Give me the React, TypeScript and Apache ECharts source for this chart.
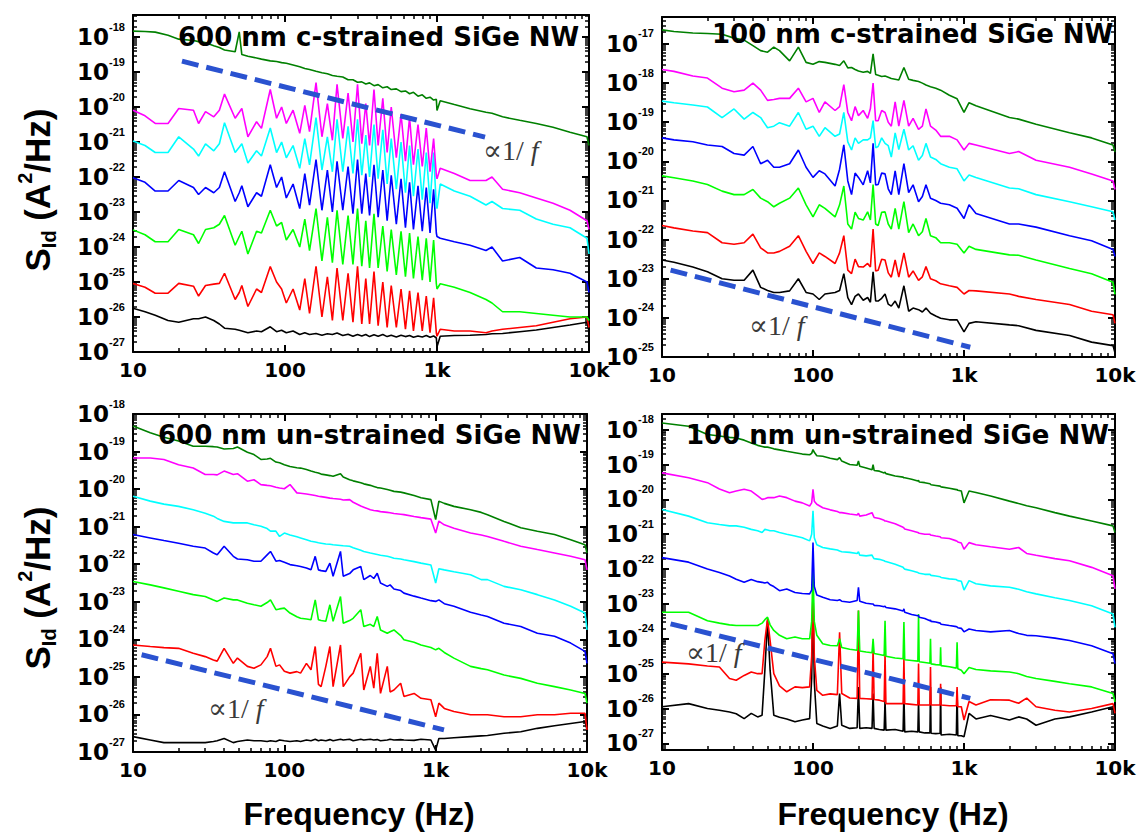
import React, { useEffect, useRef } from 'react';
import * as echarts from 'echarts';

// All S_Id values are log10(S_Id / (A^2/Hz)); frequencies in Hz.
const xTickLabels = ['10', '100', '1k', '10k'];

// ---------- 600 nm c-strained ----------
const tlFreq = [10, 12, 14, 17, 20, 25, 27, 30, 34, 37,
  40, 47, 50, 52, 57, 65, 70, 80, 88, 95,
  102, 113, 125, 135, 145, 160, 175, 190, 205, 220,
  240, 260, 280, 300, 320, 340, 360, 385, 410, 440,
  470, 500, 540, 580, 620, 660, 700, 750, 800, 850,
  900, 950, 990, 1000, 1050, 1300, 1650, 2100, 2300, 2700,
  3500, 4500, 5800, 7500, 9700, 10000];
const tlDarkGreen = [-17.83, -17.84, -17.86, -17.95, -18.06, -18.1, -18.13, -18.16, -18.25, -18.3,
  -18.37, -18.42, -17.85, -18.5, -18.55, -18.6, -18.63, -18.68, -18.7, -18.73,
  -18.75, -18.8, -18.85, -18.9, -18.93, -18.98, -19.02, -19.05, -19.1, -19.12,
  -19.14, -19.22, -19.22, -19.29, -19.28, -19.34, -19.31, -19.39, -19.36, -19.45,
  -19.42, -19.5, -19.48, -19.56, -19.54, -19.62, -19.58, -19.69, -19.65, -19.75,
  -19.72, -19.8, -19.78, -20.1, -19.82, -19.93, -20.05, -20.15, -20.18, -20.28,
  -20.38, -20.47, -20.58, -20.72, -20.85, -21.1];
const tlMagenta = [-20.09, -20.25, -20.47, -20.47, -20.04, -20.09, -20.47, -20.13, -20.28, -20.09,
  -19.63, -20.32, -20.15, -20.04, -20.85, -20.42, -20.61, -19.5, -20.32, -20.0,
  -20.47, -20.09, -20.75, -19.95, -20.7, -19.3, -20.85, -19.9, -20.95, -19.35,
  -20.9, -19.6, -21.0, -19.35, -21.05, -19.9, -21.1, -19.5, -21.1, -19.75,
  -21.3, -20.0, -21.45, -20.2, -21.55, -20.3, -21.65, -20.5, -21.7, -20.6,
  -21.85, -20.9, -21.95, -22.05, -21.75, -21.9, -22.1, -22.1, -22.0, -22.35,
  -22.45, -22.6, -22.75, -22.95, -23.25, -23.5];
const tlCyan = [-20.97, -21.1, -21.3, -21.3, -20.85, -21.2, -21.4, -21.05, -21.25, -21.05,
  -20.45, -21.3, -21.15, -21.05, -21.6, -21.25, -21.4, -20.6, -21.3, -21.0,
  -21.45, -21.1, -21.75, -20.9, -21.65, -20.3, -21.8, -20.85, -21.85, -20.35,
  -21.85, -20.55, -21.9, -20.35, -21.95, -20.8, -22.0, -20.5, -22.05, -20.65,
  -22.2, -20.9, -22.35, -21.0, -22.45, -21.1, -22.55, -21.2, -22.65, -21.3,
  -22.75, -21.3, -22.85, -22.9, -22.2, -22.4, -22.55, -22.8, -22.7, -22.9,
  -22.95, -23.2, -23.35, -23.45, -23.75, -24.2];
const tlBlue = [-22.02, -22.15, -22.4, -22.4, -22.1, -22.3, -22.5, -22.3, -22.45, -22.3,
  -21.85, -22.7, -22.45, -22.25, -22.85, -22.45, -22.55, -21.65, -22.3, -22.0,
  -22.6, -22.2, -22.9, -21.9, -22.8, -21.5, -22.95, -21.8, -23.0, -21.55,
  -22.95, -21.7, -23.05, -21.5, -23.05, -21.9, -23.1, -21.65, -23.15, -21.8,
  -23.25, -21.95, -23.35, -22.05, -23.45, -22.15, -23.5, -22.25, -23.55, -22.3,
  -23.6, -22.35, -23.6, -23.7, -23.75, -23.85, -23.95, -24.1, -24.0, -24.4,
  -24.3, -24.6, -24.65, -24.75, -25.0, -25.3];
const tlGreen = [-23.51, -23.65, -23.85, -23.85, -23.5, -23.65, -23.9, -23.5, -23.45, -23.35,
  -23.1, -23.95, -23.7, -23.55, -24.2, -23.55, -23.6, -22.95, -23.4, -23.3,
  -23.8, -23.5, -24.0, -23.2, -24.1, -22.9, -24.4, -23.15, -24.45, -22.95,
  -24.5, -23.1, -24.5, -22.9, -24.55, -23.25, -24.6, -23.05, -24.6, -23.4,
  -24.7, -23.5, -24.8, -23.55, -24.85, -23.6, -24.9, -23.7, -24.95, -23.75,
  -25.0, -23.8, -25.05, -25.2, -25.05, -25.15, -25.3, -25.5, -25.6, -25.85,
  -25.85, -25.9, -25.95, -26.0, -26.0, -26.1];
const tlRed = [-25.04, -25.15, -25.32, -25.32, -25.04, -25.12, -25.4, -25.1, -25.06, -25.04,
  -24.75, -25.5, -25.3, -25.1, -25.7, -25.2, -25.3, -24.56, -25.0, -25.2,
  -25.6, -25.2, -25.8, -24.9, -25.9, -24.55, -26.0, -24.85, -26.1, -24.6,
  -26.1, -24.75, -26.15, -24.55, -26.2, -24.9, -26.2, -24.7, -26.25, -25.0,
  -26.3, -25.1, -26.3, -25.2, -26.35, -25.25, -26.4, -25.3, -26.4, -25.4,
  -26.45, -25.45, -26.45, -26.55, -26.35, -26.4, -26.4, -26.45, -26.4, -26.35,
  -26.3, -26.25, -26.15, -26.05, -26.0, -26.3];
const tlBlack = [-25.75, -25.85, -25.95, -26.1, -26.15, -26.05, -26.05, -26.0, -26.1, -26.2,
  -26.32, -26.35, -26.38, -26.4, -26.45, -26.4, -26.42, -26.28, -26.42, -26.38,
  -26.45, -26.4, -26.5, -26.45, -26.5, -26.47, -26.52, -26.48, -26.5, -26.46,
  -26.53, -26.49, -26.55, -26.5, -26.54, -26.5, -26.56, -26.51, -26.55, -26.5,
  -26.56, -26.52, -26.57, -26.52, -26.56, -26.53, -26.58, -26.54, -26.57, -26.53,
  -26.58, -26.54, -26.6, -26.85, -26.55, -26.53, -26.52, -26.5, -26.48, -26.47,
  -26.42, -26.37, -26.3, -26.23, -26.15, -26.4];
const tlSlope = [[21, -18.69], [2070, -20.86]];

// ---------- 100 nm c-strained ----------
const trFreq = [10, 12, 16, 20, 25, 30, 35, 40, 45, 50,
  55, 60, 70, 80, 90, 100, 110, 120, 140, 150,
  160, 170, 180, 190, 200, 215, 230, 240, 250, 260,
  270, 285, 300, 315, 330, 350, 370, 400, 430, 460,
  500, 530, 560, 600, 650, 700, 800, 900, 1000, 1080,
  1200, 2000, 2300, 3000, 5000, 7000, 9700, 10000];
const trDarkGreen = [-16.64, -16.68, -16.72, -16.73, -16.75, -16.85, -16.9, -17.04, -17.17, -17.21,
  -17.08, -17.17, -17.43, -17.08, -17.47, -17.52, -17.45, -17.47, -17.52, -17.55,
  -17.43, -17.61, -17.6, -17.65, -17.69, -17.72, -17.7, -17.75, -17.25, -17.78,
  -17.8, -17.83, -17.82, -17.85, -17.88, -17.9, -17.92, -17.6, -17.9, -17.93,
  -17.96, -18.0, -18.05, -18.09, -18.13, -18.18, -18.31, -18.4, -18.75, -18.5,
  -18.58, -18.88, -18.92, -19.05, -19.27, -19.4, -19.58, -19.76];
const trMagenta = [-17.65, -17.7, -17.82, -17.87, -18.13, -18.22, -18.18, -18.0, -18.18, -18.44,
  -18.42, -18.39, -18.39, -18.13, -18.48, -18.39, -18.75, -18.48, -18.7, -18.6,
  -18.04, -18.75, -18.96, -18.6, -18.83, -18.7, -18.9, -18.65, -18.0, -18.96,
  -18.96, -18.7, -18.75, -19.0, -19.1, -18.48, -19.1, -18.44, -19.1, -18.9,
  -19.18, -19.1, -18.66, -19.1, -19.2, -19.36, -19.36, -19.45, -19.71, -19.54,
  -19.58, -19.8, -19.75, -19.97, -20.15, -20.32, -20.5, -20.72];
const trCyan = [-18.46, -18.5, -18.56, -18.61, -18.88, -18.66, -18.92, -18.75, -18.88, -19.14,
  -19.1, -19.01, -19.1, -18.75, -19.18, -19.1, -19.36, -19.14, -19.36, -19.3,
  -18.75, -19.5, -19.71, -19.4, -19.54, -19.45, -19.45, -19.4, -18.96, -19.65,
  -19.62, -19.4, -19.54, -19.6, -19.89, -19.27, -19.7, -19.18, -19.71, -19.6,
  -19.97, -19.85, -19.54, -19.89, -19.95, -20.06, -20.15, -20.19, -20.5, -20.35,
  -20.41, -20.68, -20.7, -20.85, -21.03, -21.16, -21.29, -21.5];
const trBlue = [-19.4, -19.45, -19.5, -19.58, -19.62, -19.8, -19.84, -19.62, -20.06, -19.97,
  -20.15, -20.15, -20.06, -19.71, -20.15, -20.41, -20.24, -20.32, -20.63, -20.2,
  -19.58, -20.5, -20.85, -20.3, -20.41, -20.6, -20.24, -20.55, -19.54, -20.6,
  -20.59, -20.3, -20.32, -20.7, -20.85, -20.24, -20.85, -20.06, -20.8, -20.6,
  -21.03, -20.9, -20.6, -20.94, -21.0, -21.07, -21.11, -21.2, -21.46, -21.11,
  -21.33, -21.6, -21.6, -21.68, -21.9, -22.03, -22.25, -22.43];
const trGreen = [-20.37, -20.42, -20.5, -20.59, -20.76, -20.85, -20.85, -20.72, -20.94, -21.03,
  -21.16, -21.07, -20.94, -20.68, -21.11, -21.42, -21.11, -21.2, -21.42, -21.11,
  -20.63, -21.6, -21.73, -21.3, -21.46, -21.5, -21.29, -21.5, -20.59, -21.6,
  -21.64, -21.3, -21.29, -21.6, -21.73, -21.2, -21.73, -21.03, -21.82, -21.6,
  -21.9, -21.8, -21.46, -21.9, -21.95, -22.08, -22.08, -22.12, -22.34, -22.17,
  -22.25, -22.39, -22.4, -22.52, -22.74, -22.87, -23.09, -23.4];
const trRed = [-21.64, -21.7, -21.78, -21.82, -22.08, -22.12, -22.08, -21.86, -22.21, -22.34,
  -22.34, -22.3, -22.17, -21.9, -22.3, -22.61, -22.34, -22.43, -22.61, -22.34,
  -21.9, -22.78, -22.87, -22.5, -22.69, -22.7, -22.61, -22.7, -21.73, -22.8,
  -22.78, -22.5, -22.52, -22.85, -22.96, -22.52, -22.96, -22.34, -22.96, -22.8,
  -23.04, -22.95, -22.69, -23.0, -23.05, -23.13, -23.18, -23.22, -23.39, -23.3,
  -23.31, -23.39, -23.45, -23.53, -23.66, -23.83, -23.92, -24.14];
const trBlack = [-22.52, -22.58, -22.7, -22.82, -23.0, -23.04, -23.04, -22.78, -23.22, -23.3,
  -23.35, -23.35, -23.31, -23.0, -23.35, -23.39, -23.53, -23.39, -23.35, -23.3,
  -22.87, -23.48, -23.66, -23.45, -23.39, -23.55, -23.48, -23.6, -22.82, -23.57,
  -23.57, -23.5, -23.39, -23.65, -23.7, -23.57, -23.75, -23.18, -23.83, -23.75,
  -23.79, -23.85, -23.75, -23.88, -23.95, -24.01, -24.05, -24.05, -24.36, -24.14,
  -24.1, -24.18, -24.2, -24.32, -24.45, -24.62, -24.71, -24.89];
const trSlope = [[11.4, -22.78], [1100, -24.75]];

// ---------- 600 nm un-strained ----------
const blFreq = [10, 13, 16, 20, 25, 30, 34, 36, 40, 46,
  49, 57, 63, 70, 77, 81, 88, 93, 100, 109,
  121, 128, 140, 150, 160, 168, 175, 188, 200, 210,
  235, 245, 270, 285, 320, 335, 370, 390, 411, 432,
  479, 500, 530, 587, 617, 720, 800, 930, 1000, 1050,
  1140, 1320, 1700, 2000, 2200, 2830, 3650, 4700, 6100, 7800,
  9700, 10000];
const blDarkGreen = [-18.32, -18.5, -18.62, -18.72, -18.86, -18.86, -18.87, -18.88, -18.93, -18.92,
  -18.88, -19.02, -19.08, -19.21, -19.2, -19.18, -19.28, -19.3, -19.35, -19.4,
  -19.43, -19.44, -19.48, -19.52, -19.55, -19.57, -19.6, -19.62, -19.64, -19.66,
  -19.59, -19.68, -19.75, -19.78, -19.83, -19.86, -19.9, -19.93, -19.96, -19.97,
  -20.01, -20.03, -20.06, -20.08, -20.1, -20.17, -20.23, -20.28, -20.81, -20.32,
  -20.38, -20.46, -20.55, -20.62, -20.68, -20.86, -21.03, -21.12, -21.21, -21.35,
  -21.48, -21.7];
const blMagenta = [-19.17, -19.17, -19.21, -19.35, -19.44, -19.61, -19.61, -19.62, -19.52, -19.61,
  -19.59, -19.79, -19.75, -19.88, -19.9, -19.91, -19.95, -19.97, -19.99, -19.88,
  -20.1, -20.11, -20.13, -20.15, -20.17, -20.19, -20.2, -20.22, -20.24, -20.25,
  -20.27, -20.29, -20.28, -20.35, -20.45, -20.48, -20.55, -20.57, -20.58, -20.6,
  -20.62, -20.63, -20.65, -20.67, -20.68, -20.73, -20.76, -20.8, -21.17, -20.85,
  -20.95, -21.04, -21.17, -21.22, -21.26, -21.39, -21.52, -21.61, -21.7, -21.79,
  -21.88, -22.15];
const blCyan = [-20.19, -20.32, -20.4, -20.46, -20.55, -20.64, -20.72, -20.78, -20.86, -20.9,
  -20.9, -20.9, -20.95, -20.99, -21.05, -21.12, -21.12, -21.26, -21.17, -21.22,
  -21.27, -21.3, -21.35, -21.39, -21.41, -21.43, -21.44, -21.46, -21.47, -21.48,
  -21.5, -21.51, -21.52, -21.56, -21.63, -21.66, -21.7, -21.72, -21.74, -21.76,
  -21.79, -21.81, -21.84, -21.86, -21.88, -21.93, -21.97, -22.02, -22.5, -22.12,
  -22.15, -22.2, -22.28, -22.41, -22.41, -22.59, -22.68, -22.81, -22.95, -23.12,
  -23.3, -23.75];
const blBlue = [-21.21, -21.3, -21.37, -21.44, -21.52, -21.57, -21.7, -21.75, -21.52, -21.79,
  -21.86, -21.88, -21.92, -21.92, -21.75, -21.66, -21.92, -21.9, -21.95, -22.01,
  -22.04, -22.06, -22.1, -22.15, -21.79, -22.15, -22.17, -22.19, -21.97, -22.32,
  -21.66, -22.32, -22.25, -22.15, -22.06, -22.41, -22.3, -22.38, -22.24, -22.5,
  -22.59, -22.55, -22.66, -22.7, -22.77, -22.85, -22.9, -22.97, -22.99, -22.95,
  -23.05, -23.12, -23.28, -23.35, -23.39, -23.57, -23.66, -23.84, -23.92, -24.1,
  -24.32, -24.64];
const blGreen = [-22.46, -22.55, -22.63, -22.72, -22.81, -22.86, -22.95, -22.99, -22.9, -22.95,
  -22.95, -23.04, -23.08, -23.12, -23.02, -22.95, -23.21, -23.19, -23.17, -23.3,
  -23.4, -23.44, -23.46, -23.48, -22.95, -23.48, -23.5, -23.52, -23.08, -23.52,
  -22.86, -23.57, -23.5, -23.44, -23.21, -23.66, -23.6, -23.66, -23.39, -23.75,
  -23.84, -23.8, -23.75, -23.9, -24.01, -24.08, -24.15, -24.22, -24.28, -24.24,
  -24.35, -24.5, -24.72, -24.78, -24.81, -24.95, -25.04, -25.17, -25.26, -25.35,
  -25.44, -25.7];
const blRed = [-24.15, -24.19, -24.22, -24.24, -24.37, -24.46, -24.55, -24.58, -24.24, -24.64,
  -24.5, -24.72, -24.77, -24.68, -24.46, -24.24, -24.72, -24.68, -24.85, -24.9,
  -24.86, -24.9, -24.64, -24.81, -24.19, -25.2, -25.26, -24.72, -24.19, -25.26,
  -24.15, -25.26, -25.0, -24.9, -24.37, -25.35, -24.72, -25.3, -24.37, -25.44,
  -24.72, -25.4, -25.35, -25.17, -25.52, -25.44, -25.57, -25.61, -26.06, -25.7,
  -25.84, -25.92, -26.01, -26.01, -26.01, -26.06, -26.06, -26.01, -26.01, -25.97,
  -25.97, -26.41];
const blBlack = [-26.59, -26.68, -26.75, -26.75, -26.75, -26.75, -26.72, -26.7, -26.64, -26.75,
  -26.72, -26.68, -26.7, -26.7, -26.72, -26.7, -26.72, -26.68, -26.7, -26.72,
  -26.7, -26.72, -26.68, -26.7, -26.66, -26.7, -26.68, -26.7, -26.67, -26.7,
  -26.66, -26.68, -26.66, -26.7, -26.66, -26.68, -26.66, -26.68, -26.67, -26.7,
  -26.68, -26.66, -26.68, -26.67, -26.68, -26.69, -26.66, -26.68, -26.95, -26.64,
  -26.64, -26.62, -26.59, -26.57, -26.56, -26.5, -26.46, -26.37, -26.3, -26.24,
  -26.19, -26.41];
const blSlope = [[11.4, -24.41], [1135, -26.41]];

// ---------- 100 nm un-strained ----------
const brFreq = [10, 15, 20, 24, 28, 31, 35, 39, 43, 46,
  48, 50, 52, 55, 60, 67, 76, 85, 95, 98,
  100, 102, 106, 116, 130, 145, 150, 155, 175, 196,
  200, 204, 225, 246, 250, 254, 275, 296, 300, 304,
  350, 395, 400, 405, 450, 495, 500, 505, 550, 595,
  600, 605, 650, 695, 700, 705, 800, 890, 900, 910,
  960, 1000, 1080, 1200, 1500, 2000, 2300, 2600, 3000, 4000,
  5000, 7000, 9700, 10000];
const brDarkGreen = [-17.81, -17.9, -18.14, -18.18, -18.22, -18.24, -18.3, -18.38, -18.45, -18.48,
  -18.5, -18.5, -18.52, -18.55, -18.58, -18.62, -18.66, -18.7, -18.72, -18.68,
  -18.57, -18.65, -18.75, -18.76, -18.82, -18.86, -18.8, -18.9, -19.0, -19.02,
  -18.9, -19.05, -19.1, -19.15, -19.0, -19.17, -19.19, -19.24, -19.22, -19.26,
  -19.33, -19.36, -19.38, -19.38, -19.42, -19.47, -19.45, -19.5, -19.52, -19.55,
  -19.55, -19.58, -19.6, -19.62, -19.63, -19.64, -19.68, -19.72, -19.72, -19.74,
  -19.76, -20.1, -19.76, -19.8, -19.9, -20.05, -20.12, -20.18, -20.24, -20.38,
  -20.48, -20.62, -20.76, -20.95];
const brMagenta = [-19.24, -19.38, -19.52, -19.7, -19.81, -19.76, -19.71, -19.76, -19.9, -20.0,
  -19.98, -19.95, -19.95, -19.95, -19.9, -19.95, -20.05, -20.1, -20.19, -20.1,
  -19.71, -20.05, -20.14, -20.24, -20.3, -20.35, -20.38, -20.38, -20.42, -20.45,
  -20.4, -20.48, -20.45, -20.38, -20.45, -20.52, -20.55, -20.6, -20.62, -20.62,
  -20.7, -20.8, -20.82, -20.85, -20.9, -20.95, -20.95, -20.97, -21.0, -21.0,
  -21.02, -21.03, -21.05, -21.07, -21.08, -21.1, -21.12, -21.19, -21.2, -21.22,
  -21.25, -21.43, -21.24, -21.3, -21.36, -21.43, -21.38, -21.55, -21.6, -21.7,
  -21.76, -21.95, -22.19, -22.57];
const brCyan = [-20.29, -20.48, -20.67, -20.72, -20.76, -20.76, -20.8, -20.86, -20.9, -20.95,
  -20.86, -20.88, -20.9, -20.9, -20.95, -21.0, -21.05, -21.1, -21.19, -21.0,
  -20.33, -21.1, -21.3, -21.38, -21.42, -21.45, -21.48, -21.5, -21.52, -21.55,
  -21.5, -21.6, -21.62, -21.6, -21.66, -21.7, -21.72, -21.76, -21.78, -21.78,
  -21.86, -21.95, -21.98, -22.0, -22.05, -22.1, -22.1, -22.12, -22.15, -22.15,
  -22.16, -22.18, -22.2, -22.22, -22.23, -22.24, -22.28, -22.3, -22.32, -22.33,
  -22.35, -22.6, -22.33, -22.42, -22.48, -22.52, -22.58, -22.65, -22.71, -22.82,
  -22.9, -23.05, -23.29, -23.67];
const brBlue = [-21.67, -21.8, -22.0, -22.1, -22.2, -22.29, -22.38, -22.3, -22.36, -22.38,
  -22.4, -22.38, -22.45, -22.5, -22.62, -22.57, -22.67, -22.7, -22.71, -22.6,
  -21.24, -22.5, -22.74, -22.81, -22.88, -22.9, -22.88, -22.92, -22.95, -22.9,
  -22.52, -22.92, -22.98, -23.0, -23.0, -23.04, -23.05, -23.08, -23.06, -23.1,
  -23.14, -23.2, -23.14, -23.24, -23.3, -23.34, -23.33, -23.38, -23.42, -23.48,
  -23.46, -23.5, -23.52, -23.55, -23.55, -23.58, -23.62, -23.65, -23.66, -23.68,
  -23.7, -23.8, -23.72, -23.76, -23.8, -23.76, -23.85, -23.9, -23.91, -23.98,
  -24.05, -24.2, -24.43, -24.71];
const brGreen = [-23.24, -23.24, -23.48, -23.55, -23.6, -23.62, -23.62, -23.62, -23.62, -23.55,
  -23.45, -23.38, -23.6, -23.76, -23.9, -24.0, -23.95, -24.0, -24.0, -23.5,
  -22.0, -23.5, -23.9, -24.14, -24.19, -24.2, -24.0, -24.25, -24.3, -24.33,
  -23.19, -24.35, -24.38, -24.4, -24.0, -24.42, -24.45, -24.48, -23.48, -24.5,
  -24.55, -24.57, -23.52, -24.6, -24.62, -24.64, -23.29, -24.66, -24.68, -24.7,
  -24.0, -24.72, -24.74, -24.75, -24.24, -24.77, -24.8, -24.84, -24.1, -24.86,
  -24.9, -25.0, -24.82, -24.88, -24.92, -24.95, -25.0, -25.08, -25.14, -25.22,
  -25.29, -25.38, -25.57, -25.81];
const brRed = [-24.67, -24.72, -24.78, -24.81, -25.14, -25.19, -25.05, -24.95, -25.0, -25.0,
  -24.05, -23.43, -24.05, -25.0, -25.35, -25.52, -25.38, -25.4, -25.38, -24.5,
  -22.62, -24.5, -25.48, -25.62, -25.58, -25.6, -23.81, -25.57, -25.7, -25.71,
  -23.19, -25.71, -25.72, -25.73, -24.29, -25.74, -25.76, -25.8, -24.43, -25.86,
  -25.86, -25.86, -24.57, -25.86, -25.88, -25.9, -24.71, -25.9, -25.9, -25.9,
  -24.81, -25.9, -25.9, -25.9, -25.29, -25.9, -25.92, -25.92, -25.38, -25.95,
  -25.95, -26.33, -25.8, -25.9, -25.75, -25.76, -25.85, -25.7, -25.95, -26.05,
  -26.1, -26.0, -25.86, -26.14];
const brBlack = [-25.95, -25.86, -26.0, -26.05, -26.1, -26.15, -26.29, -26.14, -26.24, -26.19,
  -24.9, -23.48, -24.9, -26.19, -26.25, -26.3, -26.38, -26.33, -26.29, -25.14,
  -22.9, -25.24, -26.43, -26.5, -26.57, -26.5, -25.57, -26.48, -26.57, -26.55,
  -25.38, -26.57, -26.55, -26.57, -25.57, -26.57, -26.6, -26.62, -25.76, -26.62,
  -26.6, -26.65, -25.57, -26.67, -26.65, -26.67, -25.76, -26.67, -26.7, -26.7,
  -25.38, -26.71, -26.72, -26.71, -25.38, -26.76, -26.74, -26.76, -25.48, -26.78,
  -26.78, -26.81, -26.14, -26.3, -26.2, -26.33, -26.24, -26.3, -26.48, -26.3,
  -26.24, -26.1, -25.95, -26.24];
const brSlope = [[11.4, -23.57], [1100, -25.71]];

const panelTitles = ['600 nm c-strained SiGe NW', '100 nm c-strained SiGe NW', '600 nm un-strained SiGe NW', '100 nm un-strained SiGe NW'];

// line colours, drawn in this order (black underneath)
const lineColors = ['#000000', '#ff0000', '#00ff00', '#0000ff', '#00ffff', '#ff00ff', '#008000'];
const slopeColor = '#2a52d0';

interface Panel {
  freq: number[];
  lines: number[][];
  slope: number[][];
  yMin: number;
  yMax: number;
  yTicks: number[];
  rect: [number, number, number, number];
}

const range = (a: number, b: number) => { const r: number[] = []; for (let i = a; i <= b; i++) r.push(i); return r; };

const panels: Panel[] = [
  { freq: tlFreq, lines: [tlBlack, tlRed, tlGreen, tlBlue, tlCyan, tlMagenta, tlDarkGreen], slope: tlSlope,
    yMin: -27, yMax: -17.37, yTicks: range(-27, -18), rect: [133, 15, 456, 337] },
  { freq: trFreq, lines: [trBlack, trRed, trGreen, trBlue, trCyan, trMagenta, trDarkGreen], slope: trSlope,
    yMin: -25, yMax: -16.31, yTicks: range(-25, -17), rect: [662, 17, 453, 340] },
  { freq: blFreq, lines: [blBlack, blRed, blGreen, blBlue, blCyan, blMagenta, blDarkGreen], slope: blSlope,
    yMin: -27, yMax: -18, yTicks: range(-27, -18), rect: [133, 414, 454, 338] },
  { freq: brFreq, lines: [brBlack, brRed, brGreen, brBlue, brCyan, brMagenta, brDarkGreen], slope: brSlope,
    yMin: -27.19, yMax: -17.55, yTicks: range(-27, -18), rect: [662, 414, 453, 336] },
];

function minorTicks(min: number, max: number): number[] {
  const out: number[] = [];
  for (let n = Math.floor(min); n <= Math.floor(max); n++) {
    for (let k = 2; k <= 9; k++) {
      const v = n + Math.log10(k);
      if (v > min + 1e-6 && v < max - 1e-6) out.push(v);
    }
  }
  return out;
}

function buildOption() {
  const grid: any[] = [];
  const xAxis: any[] = [];
  const yAxis: any[] = [];
  const series: any[] = [];
  const black = '#000';
  const frame = { show: true, onZero: false, lineStyle: { color: black, width: 2 } };
  const majTick = (vals: number[]) => ({ show: true, inside: true, length: 7, customValues: vals, lineStyle: { color: black, width: 2 } });
  const minTick = (vals: number[]) => ({ show: true, inside: true, length: 4, customValues: vals, lineStyle: { color: black, width: 1.5 } });

  panels.forEach((p, i) => {
    const [left, top, width, height] = p.rect;
    grid.push({ left, top, width, height, containLabel: false });
    const xMaj = [1, 2, 3, 4];
    const xMin = minorTicks(1, 4);
    const yMin = minorTicks(p.yMin, p.yMax);
    const bx = { type: 'value', gridIndex: i, min: 1, max: 4, splitLine: { show: false }, silent: true };
    const by = { type: 'value', gridIndex: i, min: p.yMin, max: p.yMax, splitLine: { show: false }, silent: true };
    xAxis.push({ ...bx, position: 'bottom', axisLine: frame, axisTick: majTick(xMaj),
      axisLabel: { show: true, customValues: xMaj, margin: 8, color: black, fontFamily: 'DejaVu Sans', fontWeight: 'bold', fontSize: 20,
        formatter: (v: number) => xTickLabels[Math.round(v) - 1] } });
    xAxis.push({ ...bx, position: 'bottom', axisLine: { show: false }, axisTick: minTick(xMin), axisLabel: { show: false } });
    xAxis.push({ ...bx, position: 'top', axisLine: frame, axisTick: majTick(xMaj), axisLabel: { show: false } });
    xAxis.push({ ...bx, position: 'top', axisLine: { show: false }, axisTick: minTick(xMin), axisLabel: { show: false } });
    yAxis.push({ ...by, position: 'left', axisLine: frame, axisTick: majTick(p.yTicks),
      axisLabel: { show: true, customValues: p.yTicks, margin: 8,
        formatter: (v: number) => `{b|10}{s|${Math.round(v)}}`,
        rich: {
          b: { fontFamily: 'DejaVu Sans', fontWeight: 'bold', fontSize: 23, color: black, lineHeight: 32 },
          s: { fontFamily: 'Liberation Sans', fontWeight: 'bold', fontSize: 11, color: black, lineHeight: 12, verticalAlign: 'top' },
        } } });
    yAxis.push({ ...by, position: 'left', axisLine: { show: false }, axisTick: minTick(yMin), axisLabel: { show: false } });
    yAxis.push({ ...by, position: 'right', axisLine: frame, axisTick: majTick(p.yTicks), axisLabel: { show: false } });
    yAxis.push({ ...by, position: 'right', axisLine: { show: false }, axisTick: minTick(yMin), axisLabel: { show: false } });

    p.lines.forEach((vals, j) => {
      series.push({
        type: 'line', xAxisIndex: i * 4, yAxisIndex: i * 4, symbol: 'none', silent: true,
        lineStyle: { color: lineColors[j], width: 1.6 }, z: 2 + j,
        data: p.freq.map((f, k) => [Math.log10(f), vals[k]]),
      });
    });
    series.push({
      type: 'line', xAxisIndex: i * 4, yAxisIndex: i * 4, symbol: 'none', silent: true, z: 20,
      lineStyle: { color: slopeColor, width: 5, type: [17, 8], cap: 'butt' },
      data: p.slope.map(([f, v]) => [Math.log10(f), v]),
    });
  });

  const titleStyle = (text: string) => ({ text, fontFamily: 'DejaVu Sans', fontWeight: 'bold', fontSize: 26, fill: '#000',
    align: 'left', verticalAlign: 'middle', textAlign: 'left', textVerticalAlign: 'middle' });
  const titlePos = [[178, 37], [712, 34], [158, 435], [686, 435]];
  const propPos = [[483, 150], [749, 325], [208, 708], [686, 652]];
  const graphic: any[] = [];
  panelTitles.forEach((t, i) => {
    graphic.push({ type: 'text', x: titlePos[i][0], y: titlePos[i][1], z: 100, silent: true, style: titleStyle(t) });
    graphic.push({ type: 'text', x: propPos[i][0], y: propPos[i][1], z: 100, silent: true,
      style: { text: '{a|\u221d1/ }{f|f}', align: 'left', verticalAlign: 'middle', textAlign: 'left', textVerticalAlign: 'middle',
        rich: {
          a: { fontFamily: 'Liberation Serif, DejaVu Serif, serif', fontSize: 28, fill: '#3a3a3a' },
          f: { fontFamily: 'Liberation Serif, DejaVu Serif, serif', fontStyle: 'italic', fontSize: 28, fill: '#3a3a3a' },
        } } });
  });
  const yTitleRich = {
    m: { fontFamily: 'Liberation Sans', fontWeight: 'bold', fontSize: 35, fill: '#000', lineHeight: 44 },
    sub: { fontFamily: 'Liberation Sans', fontWeight: 'bold', fontSize: 20, fill: '#000', lineHeight: 20, verticalAlign: 'bottom' },
    sup: { fontFamily: 'Liberation Sans', fontWeight: 'bold', fontSize: 20, fill: '#000', lineHeight: 20, verticalAlign: 'top' },
  };
  [[37, 190], [37, 588]].forEach(([x, y]) => {
    graphic.push({ type: 'text', x, y, rotation: Math.PI / 2, z: 100, silent: true,
      style: { text: '{m|S}{sub|Id}{m| (A}{sup|2}{m|/Hz)}', rich: yTitleRich, align: 'center', verticalAlign: 'middle',
        textAlign: 'center', textVerticalAlign: 'middle' } });
  });
  [[359, 814], [893, 814]].forEach(([x, y]) => {
    graphic.push({ type: 'text', x, y, z: 100, silent: true,
      style: { text: 'Frequency (Hz)', fontFamily: 'Liberation Sans', fontWeight: 'bold', fontSize: 32, fill: '#000',
        align: 'center', verticalAlign: 'middle', textAlign: 'center', textVerticalAlign: 'middle' } });
  });

  return { animation: false, backgroundColor: '#ffffff', grid, xAxis, yAxis, series, graphic };
}

export default function App() {
  const ref = useRef<HTMLDivElement>(null);
  useEffect(() => {
    if (!ref.current) return;
    const chart = echarts.init(ref.current, undefined, { renderer: 'svg' });
    chart.setOption(buildOption() as any);
    return () => chart.dispose();
  }, []);
  return <div ref={ref} style={{ position: 'absolute', left: 0, top: 0, width: 1140, height: 834, background: '#fff' }} />;
}
